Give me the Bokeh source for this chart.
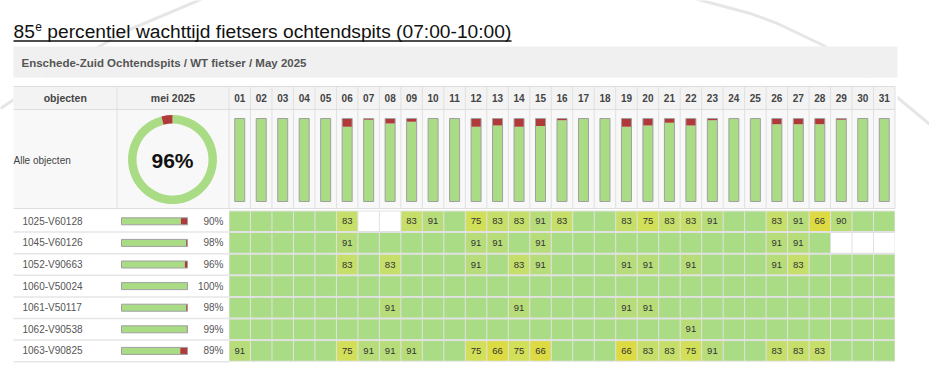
import math
from bokeh.plotting import figure
from bokeh.models import Range1d
from bokeh.embed import file_html
from bokeh.resources import INLINE
from bokeh.core.properties import value

# ---------------- data ----------------
TITLE_MAIN = "85"
TITLE_SUP = "e"
TITLE_REST = "percentiel wachttijd fietsers ochtendspits (07:00-10:00)"
SUBTITLE = "Enschede-Zuid Ochtendspits / WT fietser / May 2025"
COL_OBJ = "objecten"
COL_MONTH = "mei 2025"
ALL_LABEL = "Alle objecten"
day_labels = ["01", "02", "03", "04", "05", "06", "07", "08", "09", "10", "11", "12", "13", "14", "15", "16",
              "17", "18", "19", "20", "21", "22", "23", "24", "25", "26", "27", "28", "29", "30", "31"]

overall_pct = 96
# share (%) of "red" (exceeded) per day for all objects together
day_red_share = [0, 0, 0, 0, 0, 10, 1.5, 6, 4, 0, 0, 10, 8.5, 10, 9, 2, 0, 0, 10, 8.5, 5, 8.5, 2, 0, 0, 7, 7, 7, 1.5, 0, 0]

objects = ["1025-V60128", "1045-V60126", "1052-V90663", "1060-V50024", "1061-V50117", "1062-V90538", "1063-V90825"]
object_pct = [90, 98, 96, 100, 98, 99, 89]

N = None  # no data
v_1025 = [100, 100, 100, 100, 100, 83, N, N, 83, 91, 100, 75, 83, 83, 91, 83, 100, 100, 83, 75, 83, 83, 91, 100, 100, 83, 91, 66, 90, 100, 100]
v_1045 = [100, 100, 100, 100, 100, 91, 100, 100, 100, 100, 100, 91, 91, 100, 91, 100, 100, 100, 100, 100, 100, 100, 100, 100, 100, 91, 91, 100, N, N, N]
v_1052 = [100, 100, 100, 100, 100, 83, 100, 83, 100, 100, 100, 91, 100, 83, 91, 100, 100, 100, 91, 91, 100, 91, 100, 100, 100, 91, 83, 100, 100, 100, 100]
v_1060 = [100, 100, 100, 100, 100, 100, 100, 100, 100, 100, 100, 100, 100, 100, 100, 100, 100, 100, 100, 100, 100, 100, 100, 100, 100, 100, 100, 100, 100, 100, 100]
v_1061 = [100, 100, 100, 100, 100, 100, 100, 91, 100, 100, 100, 100, 100, 91, 100, 100, 100, 100, 91, 91, 100, 100, 100, 100, 100, 100, 100, 100, 100, 100, 100]
v_1062 = [100, 100, 100, 100, 100, 100, 100, 100, 100, 100, 100, 100, 100, 100, 100, 100, 100, 100, 100, 100, 100, 91, 100, 100, 100, 100, 100, 100, 100, 100, 100]
v_1063 = [91, 100, 100, 100, 100, 75, 91, 91, 91, 100, 100, 75, 66, 75, 66, 100, 100, 100, 66, 83, 83, 75, 91, 100, 100, 83, 83, 83, 100, 100, 100]
rows = [v_1025, v_1045, v_1052, v_1060, v_1061, v_1062, v_1063]

# ---------------- style / layout ----------------
FONT = value("Liberation Sans")
GREEN = "#a9dc85"
RED = "#b03a3a"


def cell_color(v):
    if v is None:
        return "#ffffff"
    if v >= 100:
        return GREEN
    if v >= 90:
        return "#b7dd7b"
    if v >= 83:
        return "#c6df6b"
    if v >= 75:
        return "#d2df58"
    return "#dddb44"


W, H = 929, 369
p = figure(width=W, height=H, x_range=Range1d(0, W), y_range=Range1d(H, 0),
           output_backend="svg", toolbar_location=None, min_border=0)
p.axis.visible = False
p.grid.visible = False
p.outline_line_color = None
p.background_fill_color = "white"
p.border_fill_color = "white"


def txt(x, y, s, size, color, bold=False, align="left", baseline="middle"):
    p.text(x=x if isinstance(x, list) else [x], y=y if isinstance(y, list) else [y],
           text=s if isinstance(s, list) else [s], text_font=FONT, text_font_size=f"{size}px",
           text_font_style="bold" if bold else "normal", text_color=color,
           text_align=align, text_baseline=baseline)


# background decoration (slide)
p.line([0, 60, 127, 212], [108, 68, 30, -6], line_color="#e6e6e6", line_width=3)
p.line([690, 750, 777, 823, 897, 945], [-3, 13, 23, 45, 97, 137], line_color="#e6e6e6", line_width=3)

XL, XOBJ, XMON, XR = 13, 116.5, 228.5, 894.5
ND = len(day_labels)
CW = (XR - XMON) / ND
YH0, YH1 = 86, 109
YC1 = 208
YR0, RH = 210, 21.6
NR = len(objects)
YRB = YR0 + RH * NR

# white table body
p.quad(left=[XL], right=[897], top=[77], bottom=[YRB + 1], fill_color="white", line_color=None)

# title
TS = 19.2
txt(XL, 30.5, TITLE_MAIN, TS, "#111111")
w85 = TS * 1.112
txt(XL + w85 + 0.5, 26, TITLE_SUP, 12, "#111111")
txt(XL + w85 + 0.5 + 12 * 0.556 + TS * 0.278, 30.5, TITLE_REST, TS, "#111111")
p.segment(x0=[XL], x1=[511], y0=[40.5], y1=[40.5], line_color="#111111", line_width=1.3)

# subtitle band
p.quad(left=[XL], right=[897], top=[46], bottom=[77], fill_color="#f0f0f0", line_color=None)
txt(21, 62, SUBTITLE, 11.5, "#555555", bold=True)

# header + chart row backgrounds
p.quad(left=[XL], right=[XR], top=[YH0], bottom=[YH1], fill_color="#f3f3f3", line_color=None)
p.quad(left=[XL], right=[XR], top=[YH1], bottom=[YC1], fill_color="#f8f8f8", line_color=None)
p.segment(x0=[XL, XL, XL], x1=[XR, XR, XR], y0=[YH0, YH1, YC1], y1=[YH0, YH1, YC1],
          line_color="#dedede", line_width=1)
col_edges = [XOBJ, XMON] + [XMON + CW * (i + 1) for i in range(ND)]
p.segment(x0=col_edges, x1=col_edges, y0=[YH0] * len(col_edges), y1=[YC1] * len(col_edges),
          line_color="#e0e0e0", line_width=1)

txt((XL + XOBJ) / 2, (YH0 + YH1) / 2, COL_OBJ, 10.5, "#444444", bold=True, align="center")
txt((XOBJ + XMON) / 2, (YH0 + YH1) / 2, COL_MONTH, 10.5, "#444444", bold=True, align="center")
xc = [XMON + CW * (i + 0.5) for i in range(ND)]
txt(xc, [(YH0 + YH1) / 2] * ND, day_labels, 10, "#444444", bold=True, align="center")

# Alle objecten + donut
txt(XL, 160, ALL_LABEL, 10, "#444444")
DX, DY = 172, 159
red_ang = (100 - overall_pct) / 100 * 2 * math.pi
p.annular_wedge(x=[DX], y=[DY], inner_radius=36, outer_radius=44.5,
                start_angle=[math.pi / 2 + red_ang], end_angle=[math.pi / 2 + 2 * math.pi],
                direction="anticlock", fill_color=GREEN, line_color=None)
p.annular_wedge(x=[DX], y=[DY], inner_radius=36, outer_radius=44.5,
                start_angle=[math.pi / 2], end_angle=[math.pi / 2 + red_ang],
                direction="anticlock", fill_color=RED, line_color=None)
txt(DX, DY + 1, f"{overall_pct}%", 21, "#111111", bold=True, align="center")

# daily bars
BT, BB, BW = 118, 201, 10
bh = BB - BT
red_b = [BT + s / 100 * bh for s in day_red_share]
p.quad(left=[x - BW / 2 for x in xc], right=[x + BW / 2 for x in xc], top=red_b, bottom=[BB] * ND,
       fill_color=GREEN, line_color=None)
p.quad(left=[x - BW / 2 for x in xc], right=[x + BW / 2 for x in xc], top=[BT] * ND, bottom=red_b,
       fill_color=RED, line_color=None)
p.quad(left=[x - BW / 2 for x in xc], right=[x + BW / 2 for x in xc], top=[BT] * ND, bottom=[BB] * ND,
       fill_color=None, line_color="#a0a0a0", line_width=1)

# object rows (left part)
rc = [YR0 + RH * (i + 0.5) for i in range(NR)]
row_lines = [YR0 + RH * (i + 1) for i in range(NR)]
p.segment(x0=[XL] * NR, x1=[XMON] * NR, y0=row_lines, y1=row_lines, line_color="#e6e6e6", line_width=1.5)
txt([22] * NR, rc, objects, 10, "#555555")
MB0, MB1, MBH = 121, 187, 7
mb_split = [MB0 + (MB1 - MB0) * v / 100 for v in object_pct]
p.quad(left=[MB0] * NR, right=mb_split, top=[c - MBH / 2 for c in rc], bottom=[c + MBH / 2 for c in rc],
       fill_color=GREEN, line_color=None)
p.quad(left=mb_split, right=[MB1] * NR, top=[c - MBH / 2 for c in rc], bottom=[c + MBH / 2 for c in rc],
       fill_color=RED, line_color=None)
p.quad(left=[MB0] * NR, right=[MB1] * NR, top=[c - MBH / 2 for c in rc], bottom=[c + MBH / 2 for c in rc],
       fill_color=None, line_color="#a0a0a0", line_width=1)
txt([223] * NR, rc, [f"{v}%" for v in object_pct], 10, "#555555", align="right")

# day cells
p.quad(left=[XMON], right=[XR], top=[YR0], bottom=[YRB], fill_color="#e2e2e2", line_color=None)
cl, cr, ct, cb, cc = [], [], [], [], []
lx, ly, ls = [], [], []
for i, row in enumerate(rows):
    for d, v in enumerate(row):
        cl.append(XMON + CW * d + 0.5)
        cr.append(XMON + CW * (d + 1) - 0.5)
        ct.append(YR0 + RH * i + 1)
        cb.append(YR0 + RH * (i + 1) - 1)
        cc.append(cell_color(v))
        if v is not None and v < 100:
            lx.append(xc[d])
            ly.append(rc[i])
            ls.append(str(v))
p.quad(left=cl, right=cr, top=ct, bottom=cb, fill_color=cc, line_color=None)
txt(lx, ly, ls, 9.5, "#333333", align="center")

open("out.html", "w").write(file_html(p, INLINE))
